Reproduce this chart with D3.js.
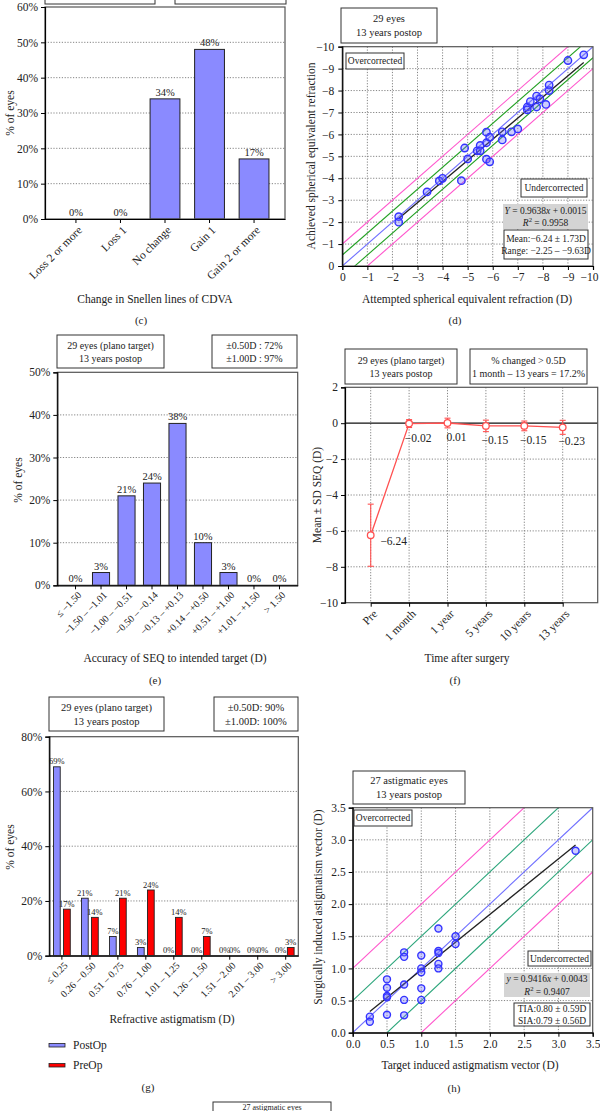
<!DOCTYPE html>
<html>
<head>
<meta charset="utf-8">
<script src="https://cdn.jsdelivr.net/npm/d3@7"></script>
<style>
	body { margin: 0; background: #fff; }
	svg { display: block; }
</style>
</head>
<body>
<svg id="fig" width="600" height="1111"></svg>
<script>
// (c) CDVA change
var cdvaCats = ["Loss 2 or more", "Loss 1", "No change", "Gain 1", "Gain 2 or more"];
var cdvaPct = [0, 0, 34, 48, 17];

// (d) attempted vs achieved SEQ
var attemptedSEQ = [-2.25, -2.25, -3.38, -3.87, -4.0, -4.75, -4.88, -5.0, -5.38, -5.5, -5.5, -5.75, -5.75, -5.75, -5.88, -5.88,
	-6.38, -6.38, -6.75, -7.0, -7.38, -7.38, -7.5, -7.75, -7.75, -7.88, -8.12, -8.25, -8.25, -9.0, -9.63];
var achievedSEQ = [-2.25, -2.0, -3.38, -3.88, -4.0, -3.89, -5.38, -4.88, -5.25, -5.5, -5.25, -6.1, -5.62, -4.87, -5.87, -4.75,
	-6.12, -5.75, -6.12, -6.25, -7.25, -7.12, -7.5, -7.75, -7.25, -7.62, -7.37, -8.25, -8.0, -9.37, -9.63];
var seqFit = [0.9638, 0.0015];

// (e) SEQ accuracy
var seqBins = ["≤ −1.50", "−1.50 – −1.01", "−1.00 – −0.51", "−0.50 – −0.14", "−0.13 – +0.13", "+0.14 – +0.50", "+0.51 – +1.00", "+1.01 – +1.50", "> 1.50"];
var seqPct = [0, 3, 21, 24, 38, 10, 3, 0, 0];

// (f) stability
var timePoints = ["Pre", "1 month", "1 year", "5 years", "10 years", "13 years"];
var seqMean = [-6.24, -0.02, 0.01, -0.15, -0.15, -0.23];
var seqSD = [1.73, 0.22, 0.27, 0.32, 0.27, 0.39];

// (g) refractive astigmatism
var cylBins = ["≤ 0.25", "0.26 – 0.50", "0.51 – 0.75", "0.76 – 1.00", "1.01 – 1.25", "1.26 – 1.50", "1.51 – 2.00", "2.01 – 3.00", "> 3.00"];
var cylPost = [69, 21, 7, 3, 0, 0, 0, 0, 0];
var cylPre = [17, 14, 21, 24, 14, 7, 0, 0, 3];

// (h) TIA vs SIA
var tiaVals = [0.25, 0.25, 0.5, 0.5, 0.5, 0.5, 0.5, 0.75, 0.75, 0.75, 0.75, 0.75, 1.0, 1.0, 1.0, 1.0, 1.0,
	1.25, 1.25, 1.25, 1.25, 1.25, 1.5, 1.5, 3.25];
var siaVals = [0.25, 0.17, 0.83, 0.70, 0.57, 0.55, 0.28, 1.25, 1.18, 0.75, 0.51, 0.27, 1.20, 1.00, 0.94, 0.69, 0.51,
	1.62, 1.27, 1.24, 1.07, 1.00, 1.50, 1.38, 2.83];
var siaFitLine = [[0.25, 0.33], [3.25, 2.92]];

var serif = "'Liberation Serif', 'Times New Roman', serif";
var svg = d3.select("#fig").attr("font-family", serif);
var barBlue = "#8a8aff", barRed = "#ff0000", lineRed = "#ff5050";
var dotFill = "rgba(110,110,255,0.35)", dotStroke = "#3333ff";

function frame(x0, y0, x1, y1) {
	svg.append("rect").attr("x", x0).attr("y", y0).attr("width", x1 - x0).attr("height", y1 - y0)
		.attr("fill", "none").attr("stroke", "#555").attr("stroke-width", 1.2);
}

function hGrid(y, vals, x0, x1) {
	svg.append("g").selectAll("line").data(vals).enter().append("line")
		.attr("x1", x0).attr("x2", x1)
		.attr("y1", function(d) { return y(d); }).attr("y2", function(d) { return y(d); })
		.attr("stroke", "#777").attr("stroke-width", 0.9).attr("stroke-dasharray", "1.2,1.6");
}

function vGrid(x, vals, y0, y1) {
	svg.append("g").selectAll("line").data(vals).enter().append("line")
		.attr("y1", y0).attr("y2", y1)
		.attr("x1", function(d) { return x(d); }).attr("x2", function(d) { return x(d); })
		.attr("stroke", "#777").attr("stroke-width", 0.9).attr("stroke-dasharray", "1.2,1.6");
}

function styleAxis(g, fs) {
	g.attr("font-family", serif).attr("font-size", fs);
	g.select(".domain").attr("stroke", "#000").attr("stroke-width", 1.2);
	g.selectAll(".tick line").attr("stroke", "#000");
	g.selectAll(".tick text").attr("fill", "#222");
}

function rotateTicks(g, dx, dy) {
	g.selectAll(".tick text").attr("x", 0).attr("y", 0).attr("dy", "0.35em")
		.attr("text-anchor", "end")
		.attr("transform", "translate(" + dx + "," + dy + ")rotate(-45)");
}

function label(x, y, txt, fs, rot) {
	var t = svg.append("text").attr("font-size", fs).attr("text-anchor", "middle")
		.attr("dy", "0.35em").attr("fill", "#222").text(txt);
	if (rot) t.attr("transform", "translate(" + x + "," + y + ")rotate(-90)");
	else t.attr("x", x).attr("y", y);
	return t;
}

// lines: string, or array of segments {t, i: italic, s: superscript}
function textBox(x, y, w, h, lines, fs, fill) {
	svg.append("rect").attr("x", x).attr("y", y).attr("width", w).attr("height", h)
		.attr("fill", fill || "#fff").attr("stroke", fill ? "none" : "#333").attr("stroke-width", 1);
	var lh = fs * 1.3;
	lines.forEach(function(line, i) {
		var t = svg.append("text").attr("x", x + w / 2)
			.attr("y", y + h / 2 + (i - (lines.length - 1) / 2) * lh)
			.attr("dy", "0.35em").attr("text-anchor", "middle")
			.attr("font-size", fs).attr("fill", "#222");
		if (typeof line === "string") { t.text(line); return; }
		var up = 0;
		line.forEach(function(seg) {
			var sp = t.append("tspan").text(seg.t);
			if (seg.i) sp.attr("font-style", "italic");
			if (seg.s) { sp.attr("font-size", fs * 0.7).attr("dy", -fs * 0.4); up = 1; }
			else if (up) { sp.attr("dy", fs * 0.4); up = 0; }
		});
	});
}

function barLabels(x, y, cats, vals, fs) {
	svg.append("g").selectAll("text").data(vals).enter().append("text")
		.attr("x", function(d, i) { return x(cats[i]) + x.bandwidth() / 2; })
		.attr("y", function(d) { return y(d) - 3; })
		.attr("text-anchor", "middle").attr("font-size", fs).attr("fill", "#222")
		.text(function(d) { return d + "%"; });
}

// diagonal reference lines (±1, ±0.5, 0) clipped to plot box
function refLines(id, x, y, lo, hi, green) {
	var r = x.range(), q = y.range();
	svg.append("clipPath").attr("id", id).append("rect")
		.attr("x", Math.min(r[0], r[1])).attr("y", Math.min(q[0], q[1]))
		.attr("width", Math.abs(r[1] - r[0])).attr("height", Math.abs(q[1] - q[0]));
	var offs = [-1, -0.5, 0, 0.5, 1];
	var col = { 1: "#ff55cc", 0.5: green, 0: "#6f6fff" };
	svg.append("g").attr("clip-path", "url(#" + id + ")")
		.selectAll("line").data(offs).enter().append("line")
		.attr("x1", x(lo)).attr("x2", x(hi))
		.attr("y1", function(d) { return y(lo + d); })
		.attr("y2", function(d) { return y(hi + d); })
		.attr("stroke", function(d) { return col[Math.abs(d)]; })
		.attr("stroke-width", 1.1);
}

// ---------- (c) ----------
(function() {
	var x0 = 45, x1 = 285, y0 = 7, y1 = 219;
	svg.append("rect").attr("x", 45).attr("y", -30).attr("width", 110).attr("height", 34).attr("fill", "#fff").attr("stroke", "#333");
	svg.append("rect").attr("x", 175).attr("y", -30).attr("width", 111).attr("height", 34).attr("fill", "#fff").attr("stroke", "#333");
	var x = d3.scaleBand().domain(cdvaCats).range([x0, x1]).paddingInner(0.33).paddingOuter(0.36);
	var y = d3.scaleLinear().domain([0, 60]).range([y1, y0]);
	hGrid(y, [10, 20, 30, 40, 50], x0, x1);
	svg.append("g").selectAll("rect").data(cdvaPct).enter().filter(function(d) { return d > 0; }).append("rect")
		.attr("x", function(d) { return x(cdvaCats[cdvaPct.indexOf(d)]); })
		.attr("y", function(d) { return y(d); })
		.attr("width", x.bandwidth())
		.attr("height", function(d) { return y1 - y(d); })
		.attr("fill", barBlue).attr("stroke", "#222").attr("stroke-width", 1);
	barLabels(x, y, cdvaCats, cdvaPct, 10.5);
	frame(x0, y0, x1, y1);
	var ay = svg.append("g").attr("transform", "translate(" + x0 + ",0)")
		.call(d3.axisLeft(y).tickValues(d3.range(0, 61, 10)).tickFormat(function(d) { return d + "%"; }).tickSize(4).tickPadding(3));
	styleAxis(ay, 11.5);
	var ax = svg.append("g").attr("transform", "translate(0," + y1 + ")")
		.call(d3.axisBottom(x).tickSize(4).tickSizeOuter(0));
	styleAxis(ax, 11.5);
	rotateTicks(ax, 4, 9);
	label(10, 113, "% of eyes", 11.5, true);
	label(155, 299, "Change in Snellen lines of CDVA", 11.5);
	label(141, 320, "(c)", 11);
})();

// ---------- (d) ----------
(function() {
	var x0 = 342.3, x1 = 593, y0 = 46.7, y1 = 266;
	var x = d3.scaleLinear().domain([0, -10]).range([x0, x1]);
	var y = d3.scaleLinear().domain([0, -10]).range([y1, y0]);
	var ticks = d3.range(-1, -10, -1);
	hGrid(y, ticks, x0, x1);
	vGrid(x, ticks, y0, y1);
	refLines("clipD", x, y, 0, -10, "#22a022");
	var ext = d3.extent(attemptedSEQ);
	svg.append("line")
		.attr("x1", x(ext[1])).attr("y1", y(seqFit[0] * ext[1] + seqFit[1]))
		.attr("x2", x(ext[0])).attr("y2", y(seqFit[0] * ext[0] + seqFit[1]))
		.attr("stroke", "#222").attr("stroke-width", 1.3);
	svg.append("g").selectAll("circle").data(attemptedSEQ).enter().append("circle")
		.attr("cx", function(d) { return x(d); })
		.attr("cy", function(d, i) { return y(achievedSEQ[i]); })
		.attr("r", 3.7).attr("fill", dotFill).attr("stroke", dotStroke).attr("stroke-width", 1.4);
	frame(x0, y0, x1, y1);
	var ay = svg.append("g").attr("transform", "translate(" + x0 + ",0)")
		.call(d3.axisLeft(y).tickValues(d3.range(0, -11, -1)).tickSize(4).tickPadding(4));
	styleAxis(ay, 11.5);
	var ax = svg.append("g").attr("transform", "translate(0," + y1 + ")")
		.call(d3.axisBottom(x).tickValues(d3.range(0, -11, -1)).tickSize(4).tickPadding(3));
	styleAxis(ax, 11.5);
	// keep the last label inside the page
	ax.selectAll(".tick text").filter(function(d) { return d === -10; }).attr("text-anchor", "end").attr("dx", 5);
	textBox(341, 8, 96, 35, ["29 eyes", "13 years postop"], 10.5);
	textBox(346, 53, 58, 16, ["Overcorrected"], 9.5);
	textBox(521, 179, 66, 18, ["Undercorrected"], 9.5);
	textBox(503, 204, 85, 25, [
		[{ t: "Y", i: 1 }, { t: " = 0.9638" }, { t: "x", i: 1 }, { t: " + 0.0015" }],
		[{ t: "R", i: 1 }, { t: "2", s: 1 }, { t: " = 0.9958" }]
	], 9.5, "#d4d4d4");
	textBox(504, 230, 84, 29, ["Mean:−6.24 ± 1.73D", "Range: −2.25 – −9.63D"], 9.5);
	label(311, 156, "Achieved spherical equivalent refraction", 11.5, true);
	label(467, 299, "Attempted spherical equivalent refraction (D)", 11.5);
	label(455, 320, "(d)", 11);
})();

// ---------- (e) ----------
(function() {
	var x0 = 57.3, x1 = 297.7, y0 = 372.3, y1 = 585.3;
	var x = d3.scaleBand().domain(seqBins).range([x0, x1]).paddingInner(0.33).paddingOuter(0.38);
	var y = d3.scaleLinear().domain([0, 50]).range([y1, y0]);
	hGrid(y, [10, 20, 30, 40], x0, x1);
	svg.append("g").selectAll("rect").data(seqBins).enter()
		.filter(function(d, i) { return seqPct[i] > 0; }).append("rect")
		.attr("x", function(d) { return x(d); })
		.attr("y", function(d) { return y(seqPct[seqBins.indexOf(d)]); })
		.attr("width", x.bandwidth())
		.attr("height", function(d) { return y1 - y(seqPct[seqBins.indexOf(d)]); })
		.attr("fill", barBlue).attr("stroke", "#222").attr("stroke-width", 1);
	barLabels(x, y, seqBins, seqPct, 10.5);
	frame(x0, y0, x1, y1);
	var ay = svg.append("g").attr("transform", "translate(" + x0 + ",0)")
		.call(d3.axisLeft(y).tickValues(d3.range(0, 51, 10)).tickFormat(function(d) { return d + "%"; }).tickSize(4).tickPadding(3));
	styleAxis(ay, 11.5);
	var ax = svg.append("g").attr("transform", "translate(0," + y1 + ")")
		.call(d3.axisBottom(x).tickSize(4).tickSizeOuter(0));
	styleAxis(ax, 10);
	rotateTicks(ax, 4, 8);
	textBox(57, 335, 107, 33, ["29 eyes (plano target)", "13 years postop"], 10);
	textBox(212, 335, 85, 33, ["±0.50D : 72%", "±1.00D : 97%"], 10);
	label(18, 480, "% of eyes", 11.5, true);
	label(175, 658, "Accuracy of SEQ to intended target (D)", 11.5);
	label(155, 680, "(e)", 11);
})();

// ---------- (f) ----------
(function() {
	var x0 = 345, x1 = 597.7, y0 = 387.3, y1 = 602.7;
	var x = d3.scalePoint().domain(timePoints).range([x0 + 25.7, x1 - 35]);
	var y = d3.scaleLinear().domain([-10, 2]).range([y1, y0]);
	hGrid(y, [-8, -6, -4, -2], x0, x1);
	vGrid(x, timePoints, y0, y1);
	svg.append("line").attr("x1", x0).attr("x2", x1).attr("y1", y(0)).attr("y2", y(0))
		.attr("stroke", "#111").attr("stroke-width", 1.2);
	var eb = svg.append("g").attr("stroke", lineRed).attr("stroke-width", 1.1);
	timePoints.forEach(function(t, i) {
		var cx = x(t), top = y(seqMean[i] + seqSD[i]), bot = y(seqMean[i] - seqSD[i]);
		eb.append("line").attr("x1", cx).attr("x2", cx).attr("y1", top).attr("y2", bot);
		eb.append("line").attr("x1", cx - 3).attr("x2", cx + 3).attr("y1", top).attr("y2", top);
		eb.append("line").attr("x1", cx - 3).attr("x2", cx + 3).attr("y1", bot).attr("y2", bot);
	});
	svg.append("path").datum(seqMean)
		.attr("d", d3.line().x(function(d, i) { return x(timePoints[i]); }).y(function(d) { return y(d); }))
		.attr("fill", "none").attr("stroke", lineRed).attr("stroke-width", 1.3);
	svg.append("g").selectAll("circle").data(seqMean).enter().append("circle")
		.attr("cx", function(d, i) { return x(timePoints[i]); })
		.attr("cy", function(d) { return y(d); })
		.attr("r", 3.3).attr("fill", "#fff").attr("stroke", lineRed).attr("stroke-width", 1.3);
	svg.append("g").selectAll("text").data(seqMean).enter().append("text")
		.attr("x", function(d, i) { return x(timePoints[i]) + (i === 0 ? 23 : 9); })
		.attr("y", function(d, i) { return y(d) + (i === 0 ? 10 : 18); })
		.attr("text-anchor", "middle").attr("font-size", 11.5).attr("fill", "#222")
		.text(function(d) { return d3.format(".2f")(d); });
	frame(x0, y0, x1, y1);
	var ay = svg.append("g").attr("transform", "translate(" + x0 + ",0)")
		.call(d3.axisLeft(y).tickValues(d3.range(-10, 3, 2)).tickSize(4).tickPadding(3));
	styleAxis(ay, 11.5);
	var ax = svg.append("g").attr("transform", "translate(0," + y1 + ")")
		.call(d3.axisBottom(x).tickSize(4).tickSizeOuter(0));
	styleAxis(ax, 11.5);
	rotateTicks(ax, 4, 9);
	textBox(345, 349, 112, 35, ["29 eyes (plano target)", "13 years postop"], 10);
	textBox(470, 349, 117, 35, ["% changed > 0.5D", "1 month – 13 years = 17.2%"], 10);
	label(317, 495, "Mean ± SD SEQ (D)", 11.5, true);
	label(467, 658, "Time after surgery", 11.5);
	label(455, 680, "(f)", 11);
})();

// ---------- (g) ----------
(function() {
	var x0 = 49.3, x1 = 298.3, y0 = 736.7, y1 = 955.7;
	var x = d3.scaleBand().domain(cylBins).range([x0, x1]).paddingInner(0.4).paddingOuter(0.15);
	var sub = d3.scaleBand().domain(["PostOp", "PreOp"]).range([0, x.bandwidth()]).paddingInner(0.33);
	var y = d3.scaleLinear().domain([0, 80]).range([y1, y0]);
	hGrid(y, [20, 40, 60], x0, x1);
	var series = [
		{ key: "PostOp", vals: cylPost, fill: barBlue },
		{ key: "PreOp", vals: cylPre, fill: barRed }
	];
	series.forEach(function(s) {
		var g = svg.append("g");
		g.selectAll("rect").data(s.vals).enter().append("rect")
			.attr("x", function(d, i) { return x(cylBins[i]) + sub(s.key); })
			.attr("y", function(d) { return y(d); })
			.attr("width", sub.bandwidth())
			.attr("height", function(d) { return y1 - y(d); })
			.attr("fill", s.fill).attr("stroke", "#222").attr("stroke-width", 0.9)
			.style("display", function(d) { return d > 0 ? null : "none"; });
		g.selectAll("text").data(s.vals).enter().append("text")
			.attr("x", function(d, i) { return x(cylBins[i]) + sub(s.key) + sub.bandwidth() / 2; })
			.attr("y", function(d) { return y(d) - 2.5; })
			.attr("text-anchor", "middle").attr("font-size", 8.5).attr("fill", "#222")
			.text(function(d) { return d + "%"; });
	});
	frame(x0, y0, x1, y1);
	var ay = svg.append("g").attr("transform", "translate(" + x0 + ",0)")
		.call(d3.axisLeft(y).tickValues(d3.range(0, 81, 20)).tickFormat(function(d) { return d + "%"; }).tickSize(4).tickPadding(3));
	styleAxis(ay, 11.5);
	var ax = svg.append("g").attr("transform", "translate(0," + y1 + ")")
		.call(d3.axisBottom(x).tickSize(4).tickSizeOuter(0));
	styleAxis(ax, 10);
	rotateTicks(ax, 4, 8);
	textBox(49, 697, 115, 34, ["29 eyes (plano target)", "13 years postop"], 10.5);
	textBox(214, 697, 84, 34, ["±0.50D: 90%", "±1.00D: 100%"], 10.5);
	var leg = svg.append("g").selectAll("g").data(series).enter().append("g")
		.attr("transform", function(d, i) { return "translate(49," + (1045 + i * 20) + ")"; });
	leg.append("rect").attr("x", 0).attr("y", -1.5).attr("width", 16).attr("height", 3.5)
		.attr("fill", function(d) { return d.fill; }).attr("stroke", "#222").attr("stroke-width", 0.8);
	leg.append("text").attr("x", 24).attr("dy", "0.35em").attr("font-size", 11.5).attr("fill", "#222")
		.text(function(d) { return d.key; });
	label(10, 847, "% of eyes", 11.5, true);
	label(172, 1019, "Refractive astigmatism (D)", 11.5);
	label(148, 1087, "(g)", 11);
})();

// ---------- (h) ----------
(function() {
	var x0 = 352.7, x1 = 592.7, y0 = 807.7, y1 = 1032.7;
	var x = d3.scaleLinear().domain([0, 3.5]).range([x0, x1]);
	var y = d3.scaleLinear().domain([0, 3.5]).range([y1, y0]);
	var ticks = d3.range(0.5, 3.01, 0.5);
	hGrid(y, ticks, x0, x1);
	vGrid(x, ticks, y0, y1);
	refLines("clipH", x, y, 0, 3.5, "#2aa57a");
	svg.append("line")
		.attr("x1", x(siaFitLine[0][0])).attr("y1", y(siaFitLine[0][1]))
		.attr("x2", x(siaFitLine[1][0])).attr("y2", y(siaFitLine[1][1]))
		.attr("stroke", "#222").attr("stroke-width", 1.3);
	svg.append("g").selectAll("circle").data(tiaVals).enter().append("circle")
		.attr("cx", function(d) { return x(d); })
		.attr("cy", function(d, i) { return y(siaVals[i]); })
		.attr("r", 3.5).attr("fill", dotFill).attr("stroke", dotStroke).attr("stroke-width", 1.4);
	frame(x0, y0, x1, y1);
	var fmt = d3.format(".1f");
	var ay = svg.append("g").attr("transform", "translate(" + x0 + ",0)")
		.call(d3.axisLeft(y).tickValues(d3.range(0, 3.51, 0.5)).tickFormat(fmt).tickSize(4).tickPadding(3));
	styleAxis(ay, 11.5);
	var ax = svg.append("g").attr("transform", "translate(0," + y1 + ")")
		.call(d3.axisBottom(x).tickValues(d3.range(0, 3.51, 0.5)).tickFormat(fmt).tickSize(4).tickPadding(3));
	styleAxis(ax, 11.5);
	textBox(353, 771, 112, 33, ["27 astigmatic eyes", "13 years postop"], 10.5);
	textBox(354, 810, 58, 16, ["Overcorrected"], 9.5);
	textBox(528, 951, 63, 15, ["Undercorrected"], 9.5);
	textBox(504, 973, 86, 24, [
		[{ t: "y", i: 1 }, { t: " = 0.9416" }, { t: "x", i: 1 }, { t: " + 0.0043" }],
		[{ t: "R", i: 1 }, { t: "2", s: 1 }, { t: " = 0.9407" }]
	], 9.5, "#d4d4d4");
	textBox(514, 1003, 76, 23, ["TIA:0.80 ± 0.59D", "SIA:0.79 ± 0.56D"], 9.5);
	label(318, 907, "Surgically induced astigmatism vector (D)", 11.5, true);
	label(470, 1065, "Target induced astigmatism vector (D)", 11.5);
	label(454, 1088, "(h)", 11);
})();

// next panel's box, cut off by the bottom edge
svg.append("rect").attr("x", 213).attr("y", 1102).attr("width", 118).attr("height", 34)
	.attr("fill", "#fff").attr("stroke", "#333");
svg.append("text").attr("x", 272).attr("y", 1109.5).attr("text-anchor", "middle")
	.attr("font-size", 8).attr("fill", "#222").text("27 astigmatic eyes");
</script>
</body>
</html>
